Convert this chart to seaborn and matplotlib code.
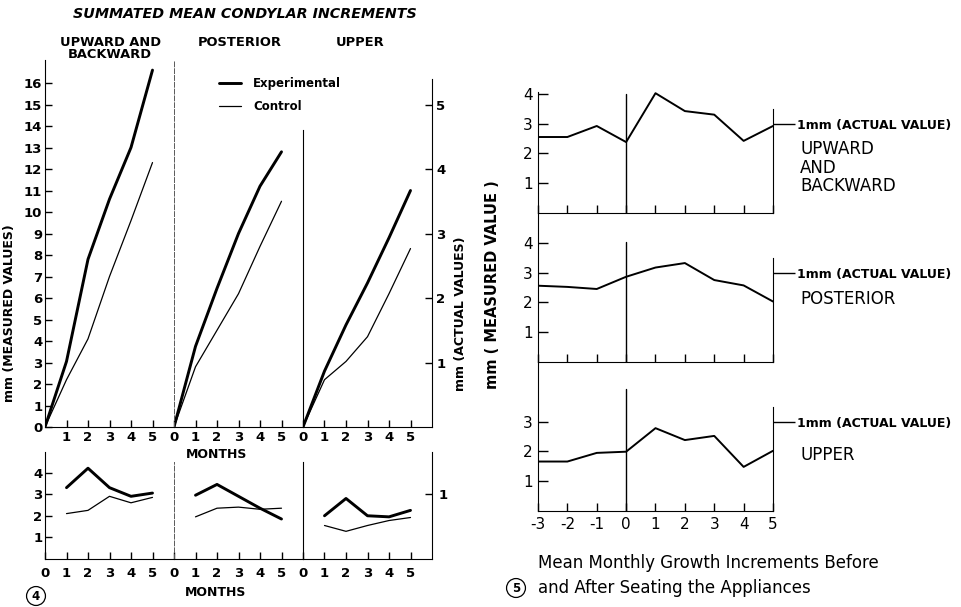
import seaborn as sns
import matplotlib.pyplot as plt
import numpy as np
import pandas as pd

# ---- data ----
panels = ["UPWARD AND\nBACKWARD", "POSTERIOR", "UPPER"]
months = [0, 1, 2, 3, 4, 5]
# summated (cumulative) mean increments, mm measured
summed_experimental = [
    [0, 3.05, 7.8, 10.6, 13.0, 16.6],
    [0, 3.75, 6.45, 9.0, 11.2, 12.8],
    [0, 2.6, 4.75, 6.7, 8.8, 11.0],
]
summed_control = [
    [0, 2.2, 4.1, 7.0, 9.6, 12.3],
    [0, 2.8, 4.5, 6.2, 8.4, 10.5],
    [0, 2.2, 3.05, 4.2, 6.2, 8.3],
]
inc_months = [1, 2, 3, 4, 5]
monthly_experimental = [
    [3.3, 4.2, 3.3, 2.9, 3.05],
    [2.95, 3.45, 2.9, 2.35, 1.85],
    [2.0, 2.8, 2.0, 1.95, 2.25],
]
monthly_control = [
    [2.1, 2.25, 2.9, 2.6, 2.85],
    [1.95, 2.35, 2.4, 2.3, 2.35],
    [1.55, 1.28, 1.55, 1.78, 1.92],
]
measured_per_actual = 3  # 1 mm actual = 3 mm measured

# figure 5: mean monthly growth increments before / after seating
rel_months = [-3, -2, -1, 0, 1, 2, 3, 4, 5]
fig5_panels = ["UPWARD\nAND\nBACKWARD", "POSTERIOR", "UPPER"]
fig5_values = [
    [2.55, 2.55, 2.92, 2.38, 4.02, 3.42, 3.3, 2.42, 2.92],
    [2.56, 2.52, 2.45, 2.86, 3.17, 3.32, 2.75, 2.57, 2.03],
    [1.66, 1.66, 1.95, 1.99, 2.78, 2.38, 2.52, 1.48, 2.02],
]
fig5_yticks = [[1, 2, 3, 4], [1, 2, 3, 4], [1, 2, 3]]

sns.set_style("ticks", {"axes.edgecolor": "black", "xtick.color": "black",
                        "ytick.color": "black", "text.color": "black", "axes.labelcolor": "black"})
plt.rcParams["font.family"] = ["DejaVu Sans"]
plt.rcParams["axes.unicode_minus"] = False

W, H = 962, 607
fig = plt.figure(figsize=(W / 100, H / 100), dpi=100)


def px(x0, y0, x1, y1):
    return [x0 / W, 1 - y1 / H, (x1 - x0) / W, (y1 - y0) / H]


def ftext(x, y, s, **kw):
    return fig.text(x / W, 1 - y / H, s, **kw)


LW_EXP, LW_CTL = 2.1, 0.9
bold = dict(fontweight="bold")
TFS = 9.5  # tick label size, figure 4

# ---------------- figure 4, top: summated increments ----------------
top_ylim = 17.07
top_axes = []
for i in range(3):
    ax = fig.add_axes(px(45 + 129 * i, 60, 45 + 129 * (i + 1), 427))
    sns.lineplot(x=months, y=summed_experimental[i], ax=ax, color="k", linewidth=LW_EXP)
    sns.lineplot(x=months, y=summed_control[i], ax=ax, color="k", linewidth=LW_CTL)
    ax.set(xlim=(0, 6), ylim=(0, top_ylim), xlabel="", ylabel="")
    ax.patch.set_visible(False)
    ax.spines[["top", "right"]].set_visible(False)
    ax.tick_params(direction="in", length=5, width=1)
    xt = months[1:] if i == 0 else months
    ax.set_xticks(xt, [str(v) for v in xt], fontsize=TFS, **bold)
    ax.tick_params(axis="x", pad=3)
    if i == 0:
        ax.set_yticks(range(0, 17), [str(v) for v in range(0, 17)], fontsize=TFS, **bold)
        ax.tick_params(axis="y", pad=2)
    else:
        ax.set_yticks([])
    if i == 1:
        ax.spines["left"].set_linestyle((0, (5, 2)))
        ax.spines["left"].set_linewidth(0.7)
        ax.spines["left"].set_color("0.35")
    if i == 2:
        ax.spines["left"].set_bounds(0, 13.8)
    top_axes.append(ax)

# right axis in actual mm
rax = top_axes[2].twinx()
rax.set_ylim(0, top_ylim / measured_per_actual)
for s in ["top", "left", "bottom"]:
    rax.spines[s].set_visible(False)
rax.spines["right"].set_bounds(0, 16.2 / measured_per_actual)
rax.set_yticks(range(1, 6), [str(v) for v in range(1, 6)], fontsize=TFS, **bold)
rax.tick_params(direction="in", length=5, width=1, pad=3)

# panel titles
for i, name in enumerate(panels):
    cx = [110, 240, 360][i]
    ftext(cx, 36, name, ha="center", va="top", fontsize=9.4, linespacing=0.95, **bold)
ftext(245, 14, "SUMMATED MEAN CONDYLAR INCREMENTS", ha="center", va="center",
      fontsize=10.3, fontweight="bold", fontstyle="italic")

# legend
h = top_axes[0].get_lines()
fig.legend([h[0], h[1]], ["Experimental", "Control"], loc="upper left",
           bbox_to_anchor=(219 / W, 1 - 77 / H), frameon=False,
           prop={"weight": "bold", "size": 8.5}, handlelength=1.9, handletextpad=1.0,
           labelspacing=0.85, borderpad=0, borderaxespad=0)

ftext(10, 313, "mm (MEASURED VALUES)", rotation=90, ha="center", va="center", fontsize=9, **bold)
ftext(461, 314, "mm (ACTUAL VALUES)", rotation=90, ha="center", va="center", fontsize=9, **bold)
ftext(217, 455, "MONTHS", ha="center", va="center", fontsize=9, **bold)

# ---------------- figure 4, bottom: monthly increments ----------------
bot_ylim = 4.95
bot_axes = []
for i in range(3):
    ax = fig.add_axes(px(45 + 129 * i, 452, 45 + 129 * (i + 1), 559))
    sns.lineplot(x=inc_months, y=monthly_experimental[i], ax=ax, color="k", linewidth=LW_EXP)
    sns.lineplot(x=inc_months, y=monthly_control[i], ax=ax, color="k", linewidth=LW_CTL)
    ax.set(xlim=(0, 6), ylim=(0, bot_ylim), xlabel="", ylabel="")
    ax.patch.set_visible(False)
    ax.spines[["top", "right"]].set_visible(False)
    ax.tick_params(direction="in", length=5, width=1)
    ax.set_xticks(months, [str(v) for v in months], fontsize=TFS, **bold)
    ax.tick_params(axis="x", pad=6)
    if i == 0:
        ax.set_yticks(range(1, 5), [str(v) for v in range(1, 5)], fontsize=TFS, **bold)
        ax.tick_params(axis="y", pad=2)
    else:
        ax.set_yticks([])
        ax.spines["left"].set_bounds(0, 4.5)
    if i == 1:
        ax.spines["left"].set_linestyle((0, (5, 2)))
        ax.spines["left"].set_linewidth(0.7)
        ax.spines["left"].set_color("0.35")
    bot_axes.append(ax)

rax2 = bot_axes[2].twinx()
rax2.set_ylim(0, bot_ylim / measured_per_actual)
for s in ["top", "left", "bottom"]:
    rax2.spines[s].set_visible(False)
rax2.set_yticks([1], ["1"], fontsize=TFS, **bold)
rax2.tick_params(direction="in", length=5, width=1, pad=5)

ftext(216, 592, "MONTHS", ha="center", va="center", fontsize=9, **bold)
ftext(36, 596, "4", ha="center", va="center", fontsize=8.5, **bold,
      bbox=dict(boxstyle="circle,pad=0.25", fc="white", ec="black", lw=0.9))

# ---------------- figure 5 ----------------
tops = [64, 213, 362]
for i in range(3):
    ax = fig.add_axes(px(538, tops[i], 773, tops[i] + 149))
    sns.lineplot(x=rel_months, y=fig5_values[i], ax=ax, color="k", linewidth=1.4)
    ax.set(xlim=(-3, 5), ylim=(0, 5), xlabel="", ylabel="")
    ax.patch.set_visible(False)
    ax.spines["top"].set_visible(False)
    ax.spines["right"].set_bounds(0, 3.5)
    if i == 0:
        ax.spines["left"].set_bounds(0, 4.05)
    ax.axvline(0, ymax=[3.98, 4.03, 4.1][i] / 5, color="k", linewidth=1)
    ax.tick_params(direction="in", width=1)
    ax.tick_params(axis="y", length=7, pad=4)
    ax.tick_params(axis="x", length=6)
    ax.set_yticks(fig5_yticks[i], [str(v) for v in fig5_yticks[i]], fontsize=11)
    if i == 2:
        ax.set_xticks(rel_months, [str(v) for v in rel_months], fontsize=11)
        ax.tick_params(axis="x", pad=4)
    else:
        ax.set_xticks(rel_months, [])
    r = ax.twinx()
    r.set_ylim(0, 5 / measured_per_actual)
    for s in ["top", "left", "bottom", "right"]:
        r.spines[s].set_visible(False)
    r.set_yticks([1], ["1mm (ACTUAL VALUE)"], fontsize=9, **bold)
    r.tick_params(direction="out", length=16, width=1, pad=1)
    ftext(800, [140, 290, 446][i], fig5_panels[i], ha="left", va="top", fontsize=12, linespacing=1.05)

ftext(493, 285, "mm ( MEASURED VALUE )", rotation=90, ha="center", va="center", fontsize=10.5, **bold)
ftext(538, 563, "Mean Monthly Growth Increments Before", ha="left", va="center", fontsize=12)
ftext(538, 588, "and After Seating the Appliances", ha="left", va="center", fontsize=12)
ftext(516, 588, "5", ha="center", va="center", fontsize=8.5, **bold,
      bbox=dict(boxstyle="circle,pad=0.25", fc="white", ec="black", lw=0.9))

fig.savefig("out.png", dpi=100)
